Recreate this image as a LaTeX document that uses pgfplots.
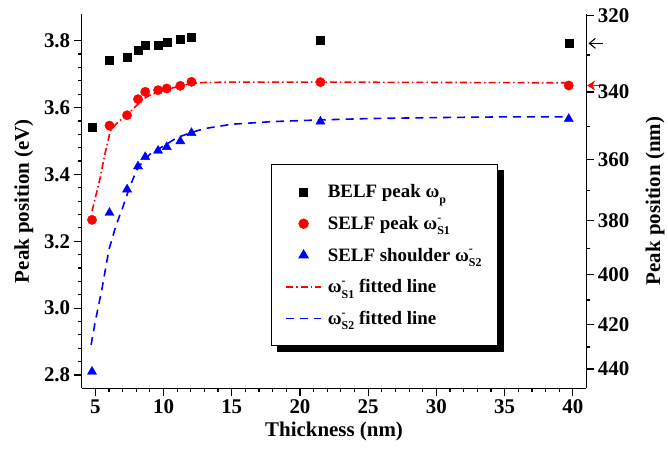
\documentclass[border=0pt]{standalone}
\usepackage{pgfplots}
\pgfplotsset{compat=1.18}
\usepackage{fontspec}
\setmainfont{Liberation Serif}
\usetikzlibrary{arrows.meta}

\newcommand{\om}[1]{ω\rlap{\raisebox{0.95ex}{\fontsize{12}{12}\selectfont -}}\raisebox{-0.6ex}{\fontsize{12}{12}\selectfont #1}}
\newcommand{\omp}{ω\raisebox{-0.6ex}{\fontsize{12}{12}\selectfont p}}

\pgfplotsset{
  common/.style={
    scale only axis, width=507pt, height=376pt,
    xmin=4, xmax=41, ymin=2.76, ymax=3.88,
    tick align=outside,
    major tick length=8pt, minor tick length=4pt,
    every tick/.style={line width=1.2pt, black},
    axis line style={line width=1.5pt},
    tick label style={font=\fontsize{21}{21}\selectfont\bfseries},
    label style={font=\fontsize{21}{21}\selectfont\bfseries},
    /pgf/number format/assume math mode=true,
    clip=false,
  },
  linelegend/.style={legend image code/.code={\draw[##1] (0pt,0pt) -- (35pt,0pt);}},
  marklegend/.style={legend image code/.code={\draw[##1,mark repeat=1,mark phase=1] plot coordinates {(17.5pt,0pt)};}},
}

\begin{document}
\begin{tikzpicture}
\begin{axis}[common,
  name=main,
  axis x line*=bottom, axis y line*=left,
  xtick={5,10,...,40}, minor x tick num=4,
  ytick={2.8,3.0,...,3.8}, minor y tick num=4,
  yticklabel style={/pgf/number format/.cd,fixed,fixed zerofill,precision=1},
  xlabel={Thickness (nm)},
  ylabel={Peak position (eV)},
  xlabel style={at={(axis description cs:0.5,0)}, anchor=center, yshift=-43pt},
  ylabel style={at={(axis description cs:0,0.5)}, anchor=center, yshift=58pt},
  legend style={at={(axis description cs:0.375,0.598)}, anchor=north west,
    name=leg,
    draw=black, line width=1pt, fill=white,
    font=\fontsize{19}{19}\selectfont\bfseries,
    inner xsep=14pt, inner ysep=18pt, row sep=13pt, column sep=4pt,
    nodes={inner sep=2pt}, legend cell align=left},
]
% fitted lines
\addplot[red, line width=1.6pt, dash pattern=on 7pt off 3pt on 1.5pt off 3pt, forget plot] coordinates {
(4.76,3.29) (5.0,3.33) (5.36,3.39) (5.7,3.46) (6.1,3.53) (6.5,3.55) (7,3.568) (7.5,3.585)
(8,3.605) (8.5,3.625) (9,3.637) (10,3.652) (11,3.662) (12,3.672) (13,3.675) (15,3.676)
(21.5,3.676) (30,3.675) (39.7,3.674)};
\addplot[blue, line width=1.6pt, dash pattern=on 8pt off 6pt, forget plot] coordinates {
(4.69,2.89) (5.0,2.96) (5.5,3.06) (6,3.175) (6.5,3.245) (7,3.30) (7.5,3.36) (8,3.41)
(8.5,3.44) (9,3.46) (10,3.485) (11,3.51) (12,3.525) (13,3.537) (15,3.55) (18,3.558)
(21.5,3.563) (25,3.567) (30,3.57) (35,3.572) (39.7,3.572)};
% data
\addplot[only marks, mark=square*, mark size=4pt, black, marklegend] coordinates {
(4.76,3.542) (6.04,3.742) (7.33,3.752) (8.13,3.772) (8.66,3.787) (9.6,3.787)
(10.24,3.796) (11.23,3.804) (12.05,3.809) (21.5,3.800) (39.7,3.792)};
\addlegendentry{BELF peak \omp}
\addplot[only marks, mark=*, mark size=4.7pt, red, marklegend] coordinates {
(4.76,3.264) (6.04,3.546) (7.33,3.577) (8.13,3.625) (8.66,3.647) (9.6,3.652)
(10.24,3.657) (11.23,3.665) (12.05,3.677) (21.5,3.676) (39.7,3.666)};
\addlegendentry{SELF peak \om{S1}}
\addplot[only marks, mark=triangle*, mark size=5.3pt, blue, marklegend] coordinates {
(4.76,2.81) (6.04,3.285) (7.33,3.355) (8.13,3.424) (8.66,3.452) (9.6,3.471)
(10.24,3.482) (11.23,3.499) (12.05,3.524) (21.5,3.558) (39.7,3.566)};
\addlegendentry{SELF shoulder \om{S2}}
\addlegendimage{red, line width=1.6pt, dash pattern=on 7pt off 3pt on 1.5pt off 3pt, linelegend}
\addlegendentry{\om{S1} fitted line}
\addlegendimage{blue, line width=1.6pt, dash pattern=on 8pt off 6pt, linelegend}
\addlegendentry{\om{S2} fitted line}
% arrows
\draw[black, line width=1.1pt, -{Straight Barb[length=6pt,width=10pt]}] (axis cs:42.2,3.792) -- (axis cs:41.15,3.792);
\draw[red, line width=1.4pt, -{Stealth[length=8pt,width=10pt]}] (axis cs:42.35,3.666) -- (axis cs:41.05,3.666);
% bounding frame
\path (rel axis cs:0,0) ++(-82pt,-63pt) rectangle ++(668pt,453pt);
\end{axis}
\begin{axis}[common,
  axis x line=none, axis y line*=right,
  ytick={3.8745,3.6466,3.4440,3.2627,3.0996,2.9520,2.8178},
  yticklabels={320,340,360,380,400,420,440},
  minor ytick={3.7571,3.5424,3.3509,3.1791,3.0240,2.8834},
  ylabel={Peak position (nm)},
  ylabel style={at={(axis description cs:1,0.5)}, anchor=center, yshift=-69pt},
]
\end{axis}
% legend shadow
\fill[black] ([xshift=6pt]leg.south west) rectangle ([xshift=6pt,yshift=-6pt]leg.south east);
\fill[black] ([yshift=-6pt]leg.north east) rectangle ([xshift=6pt,yshift=-6pt]leg.south east);
\end{tikzpicture}
\end{document}
